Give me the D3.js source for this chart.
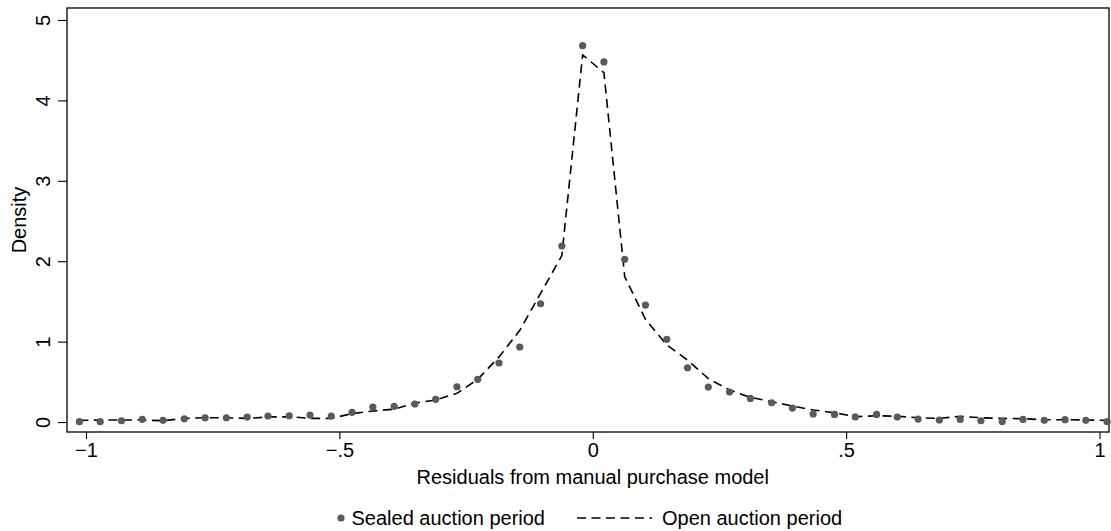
<!DOCTYPE html>
<html>
<head>
<meta charset="utf-8">
<script src="https://cdn.jsdelivr.net/npm/d3@7"></script>
<style>
  body { margin: 0; background: #fff; }
  text { font-family: "Liberation Sans", Arial, Helvetica, sans-serif; fill: #000; }
</style>
</head>
<body>
<div id="chart"></div>
<script>
// evaluation grid (residual values)
const gridX = [-1.013, -0.972, -0.930, -0.889, -0.848, -0.806, -0.765, -0.723, -0.682, -0.641,
               -0.599, -0.558, -0.516, -0.475, -0.434, -0.392, -0.351, -0.310, -0.268, -0.227,
               -0.185, -0.144, -0.103, -0.061, -0.020, 0.022, 0.063, 0.104, 0.146, 0.187,
               0.228, 0.270, 0.311, 0.353, 0.394, 0.435, 0.477, 0.518, 0.560, 0.601,
               0.642, 0.684, 0.725, 0.766, 0.808, 0.849, 0.891, 0.932, 0.973, 1.015];

// sealed auction period density (dots)
const sealedDensity = [0.004, 0.004, 0.016, 0.034, 0.021, 0.041, 0.053, 0.053, 0.062, 0.075,
                       0.078, 0.087, 0.075, 0.121, 0.187, 0.195, 0.224, 0.282, 0.439, 0.531,
                       0.734, 0.933, 1.471, 2.189, 4.680, 4.478, 2.024, 1.455, 1.029, 0.675,
                       0.435, 0.373, 0.294, 0.240, 0.174, 0.100, 0.095, 0.064, 0.095, 0.062,
                       0.037, 0.025, 0.033, 0.016, 0.008, 0.033, 0.021, 0.029, 0.021, 0.004];

// open auction period density (dashed line)
const openDensity = [0.021, 0.025, 0.025, 0.025, 0.016, 0.046, 0.053, 0.053, 0.045, 0.062,
                     0.066, 0.046, 0.046, 0.105, 0.137, 0.160, 0.236, 0.274, 0.357, 0.531,
                     0.810, 1.140, 1.600, 2.070, 4.565, 4.345, 1.810, 1.277, 0.958, 0.770,
                     0.540, 0.398, 0.307, 0.253, 0.199, 0.149, 0.116, 0.066, 0.078, 0.071,
                     0.053, 0.046, 0.071, 0.053, 0.046, 0.041, 0.029, 0.029, 0.025, 0.021];

const xTicks = [-1, -0.5, 0, 0.5, 1];
const xTickLabels = ["\u22121", "\u2212.5", "0", ".5", "1"];
const yTicks = [0, 1, 2, 3, 4, 5];

const seriesNames = ["Sealed auction period", "Open auction period"];

const width = 1111, height = 531;
const plot = { left: 67, right: 1109, top: 8, bottom: 432 };
const fontSize = 20;

const xScale = d3.scaleLinear().domain([-1.0375, 1.0187]).range([plot.left, plot.right]);
const yScale = d3.scaleLinear().domain([-0.124, 5.149]).range([plot.bottom, plot.top]);

const svg = d3.select("#chart")
    .append("svg")
    .attr("width", width)
    .attr("height", height);

// plot frame
svg.append("rect")
    .attr("x", plot.left)
    .attr("y", plot.top)
    .attr("width", plot.right - plot.left)
    .attr("height", plot.bottom - plot.top)
    .attr("fill", "none")
    .attr("stroke", "#000")
    .attr("stroke-width", 1.3);

// x axis
const xAxis = svg.append("g")
    .attr("transform", `translate(0,${plot.bottom})`)
    .call(d3.axisBottom(xScale)
        .tickValues(xTicks)
        .tickFormat((d, i) => xTickLabels[i])
        .tickSize(7)
        .tickPadding(4));
xAxis.select(".domain").remove();
xAxis.selectAll(".tick line").attr("stroke", "#000").attr("stroke-width", 1.1);
xAxis.selectAll(".tick text")
    .attr("font-size", fontSize)
    .attr("font-family", "Liberation Sans, Arial, sans-serif");

// y axis
const yAxis = svg.append("g")
    .attr("transform", `translate(${plot.left},0)`)
    .call(d3.axisLeft(yScale)
        .tickValues(yTicks)
        .tickSize(9)
        .tickFormat(d3.format("d")));
yAxis.select(".domain").remove();
yAxis.selectAll(".tick line").attr("stroke", "#000").attr("stroke-width", 1.1);
yAxis.selectAll(".tick text")
    .attr("font-size", fontSize)
    .attr("font-family", "Liberation Sans, Arial, sans-serif")
    .attr("text-anchor", "middle")
    .attr("dy", 0)
    .attr("x", 0)
    .attr("transform", "translate(-17,0) rotate(-90)");

// axis titles
svg.append("text")
    .attr("x", xScale(0))
    .attr("y", 484)
    .attr("text-anchor", "middle")
    .attr("font-size", fontSize)
    .text("Residuals from manual purchase model");

svg.append("text")
    .attr("transform", `translate(26,${(plot.top + plot.bottom) / 2}) rotate(-90)`)
    .attr("text-anchor", "middle")
    .attr("font-size", fontSize)
    .text("Density");

// open auction line
const line = d3.line()
    .x((d) => xScale(d[0]))
    .y((d) => yScale(d[1]));

svg.append("path")
    .datum(d3.zip(gridX, openDensity))
    .attr("fill", "none")
    .attr("stroke", "#000")
    .attr("stroke-width", 1.6)
    .attr("stroke-dasharray", "9,5.5")
    .attr("d", line);

// sealed auction dots
svg.append("g")
    .selectAll("circle")
    .data(d3.zip(gridX, sealedDensity))
    .enter()
    .append("circle")
    .attr("cx", (d) => xScale(d[0]))
    .attr("cy", (d) => yScale(d[1]))
    .attr("r", 3.6)
    .attr("fill", "#5a5a5a");

// legend
const legend = svg.append("g").attr("transform", "translate(0,518)");
legend.append("circle")
    .attr("cx", 341)
    .attr("cy", 0)
    .attr("r", 3.6)
    .attr("fill", "#5a5a5a");
legend.append("text")
    .attr("x", 545)
    .attr("y", 7)
    .attr("text-anchor", "end")
    .attr("font-size", fontSize)
    .text(seriesNames[0]);
legend.append("line")
    .attr("x1", 577)
    .attr("x2", 652)
    .attr("y1", 0)
    .attr("y2", 0)
    .attr("stroke", "#000")
    .attr("stroke-width", 1.6)
    .attr("stroke-dasharray", "9,5.5");
legend.append("text")
    .attr("x", 662)
    .attr("y", 7)
    .attr("font-size", fontSize)
    .text(seriesNames[1]);
</script>
</body>
</html>
